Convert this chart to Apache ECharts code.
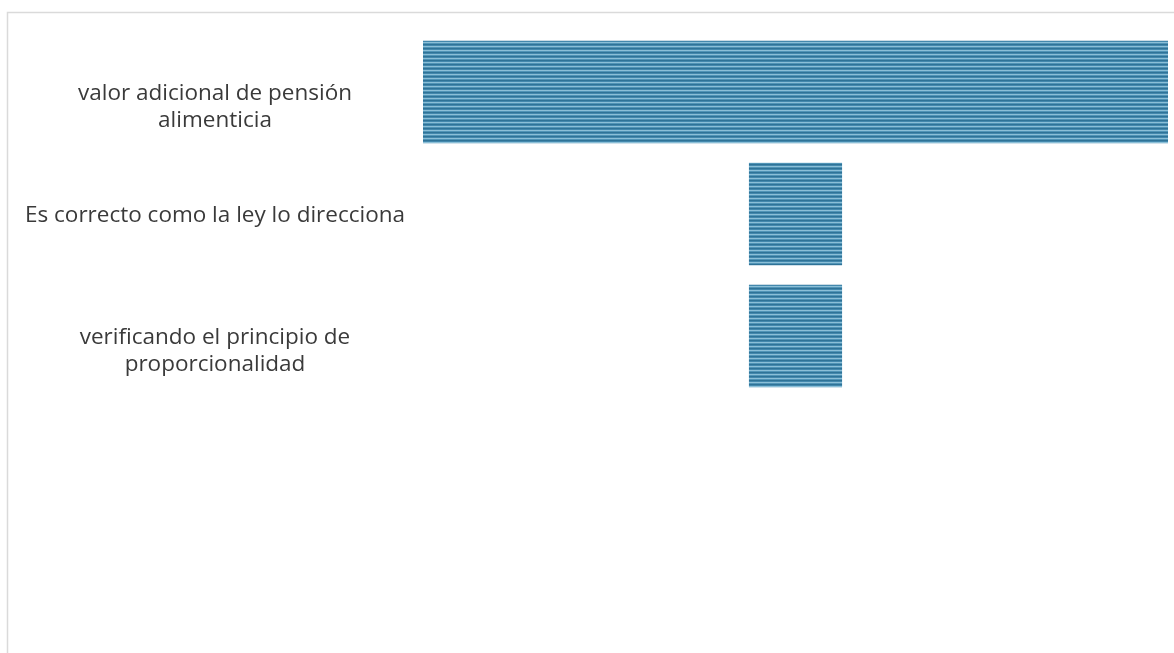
<!DOCTYPE html>
<html>
<head>
<meta charset="utf-8">
<script src="https://cdn.jsdelivr.net/npm/echarts@6/dist/echarts.min.js"></script>
<style>
  html, body { margin: 0; padding: 0; background: #ffffff; }
  #chart { width: 1174px; height: 653px; }
</style>
</head>
<body>
<div id="chart"></div>
<script>
// Funnel stages, top to bottom
const categories = [
  'valor adicional de pensión\nalimenticia',
  'Es correcto como la ley lo direcciona',
  'verificando el principio de\nproporcionalidad'
];
const values = [8, 1, 1];

const maxValue = Math.max(...values);
// invisible spacer that centres each bar on the funnel axis
const offsets = values.map(v => (maxValue - v) / 2);

// horizontal stripe fill
function stripePattern() {
  const c = document.createElement('canvas');
  c.width = 4; c.height = 4;
  const ctx = c.getContext('2d');
  const rows = ['#2f7397', '#4388ad', '#8bbfd7', '#5094b7'];
  rows.forEach((col, i) => { ctx.fillStyle = col; ctx.fillRect(0, i, 4, 1); });
  return { image: c, repeat: 'repeat' };
}

const chart = echarts.init(document.getElementById('chart'), null, { renderer: 'canvas' });
chart.setOption({
  animation: false,
  backgroundColor: '#ffffff',
  graphic: [{
    type: 'rect',
    shape: { x: 7.5, y: 12.5, width: 1300, height: 800 },
    style: { fill: 'none', stroke: '#dadada', lineWidth: 1.5 },
    silent: true
  }],
  grid: { left: 423, right: 6, top: 31, height: 366 },
  xAxis: {
    type: 'value', min: 0, max: maxValue,
    show: false
  },
  yAxis: {
    type: 'category',
    inverse: true,
    data: categories,
    axisLine: { show: false },
    axisTick: { show: false },
    axisLabel: {
      margin: 208,
      align: 'center',
      verticalAlign: 'top',
      padding: [-12, 0, 0, 0],
      color: '#3a3a3a',
      fontFamily: 'Open Sans',
      fontSize: 22.5,
      lineHeight: 27
    }
  },
  series: [
    {
      type: 'bar', stack: 'funnel', data: offsets,
      itemStyle: { color: 'transparent' }, silent: true,
      barCategoryGap: '16%'
    },
    {
      type: 'bar', stack: 'funnel', data: values,
      itemStyle: { color: stripePattern() },
      barCategoryGap: '16%'
    }
  ]
});
</script>
</body>
</html>
